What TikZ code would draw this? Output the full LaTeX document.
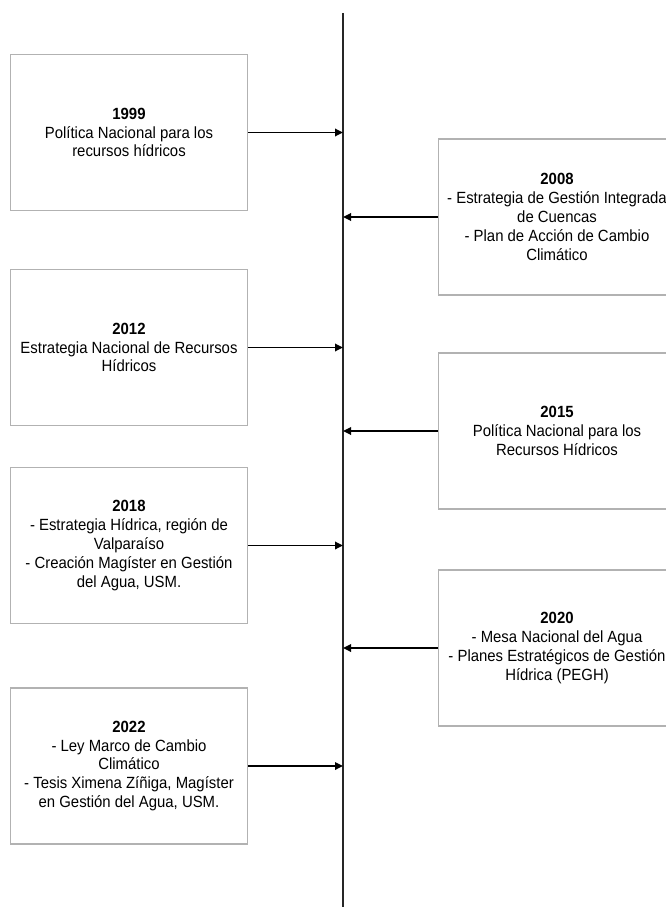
\documentclass[tikz,border=0pt]{standalone}
\usepackage{fontspec}
\setmainfont[FakeStretch=0.92]{Liberation Sans}
\usetikzlibrary{arrows.meta}

\tikzset{
  hito/.style={draw=black!30, line width=1.2pt, minimum width=237pt, minimum height=156pt,
    inner sep=0pt, align=center, font=\fontsize{16.2}{18.8}\selectfont},
  flecha/.style={line width=1.7pt, -{Triangle[length=8pt,width=7.5pt]}}
}

\begin{document}
\begin{tikzpicture}[x=1pt,y=-1pt]
        \useasboundingbox (0,0) rectangle (665,909);
        \coordinate (arriba) at (343,13);
        \coordinate (abajo) at (343,907);
        \draw [line width=2.6pt, black!85] (arriba) -- (abajo);
        % lado izquierdo
        \node [hito] (a1999) at (129,132.5) {\textbf{1999}\\Política Nacional para los\\recursos hídricos};
        \node [hito] (a2012) at (129,347.5) {\textbf{2012}\\Estrategia Nacional de Recursos\\Hídricos};
        \node [hito] (a2018) at (129,545.5) {\textbf{2018}\\- Estrategia Hídrica, región de\\Valparaíso\\- Creación Magíster en Gestión\\del Agua, USM.};
        \node [hito] (a2022) at (129,766) {\textbf{2022}\\- Ley Marco de Cambio\\Climático\\- Tesis Ximena Zíñiga, Magíster\\en Gestión del Agua, USM.};
        % lado derecho
        \node [hito] (a2008) at (557,217) {\textbf{2008}\\- Estrategia de Gestión Integrada\\de Cuencas\\- Plan de Acción de Cambio\\Climático};
        \node [hito] (a2015) at (557,431) {\textbf{2015}\\Política Nacional para los\\Recursos Hídricos};
        \node [hito] (a2020) at (557,648) {\textbf{2020}\\- Mesa Nacional del Agua\\- Planes Estratégicos de Gestión\\Hídrica (PEGH)};
        \draw [flecha] (a1999.east) -- (a1999.east -| arriba);
        \draw [flecha] (a2012.east) -- (a2012.east -| arriba);
        \draw [flecha] (a2018.east) -- (a2018.east -| arriba);
        \draw [flecha] (a2022.east) -- (a2022.east -| arriba);
        \draw [flecha] (a2008.west) -- (a2008.west -| arriba);
        \draw [flecha] (a2015.west) -- (a2015.west -| arriba);
        \draw [flecha] (a2020.west) -- (a2020.west -| arriba);
\end{tikzpicture}
\end{document}
